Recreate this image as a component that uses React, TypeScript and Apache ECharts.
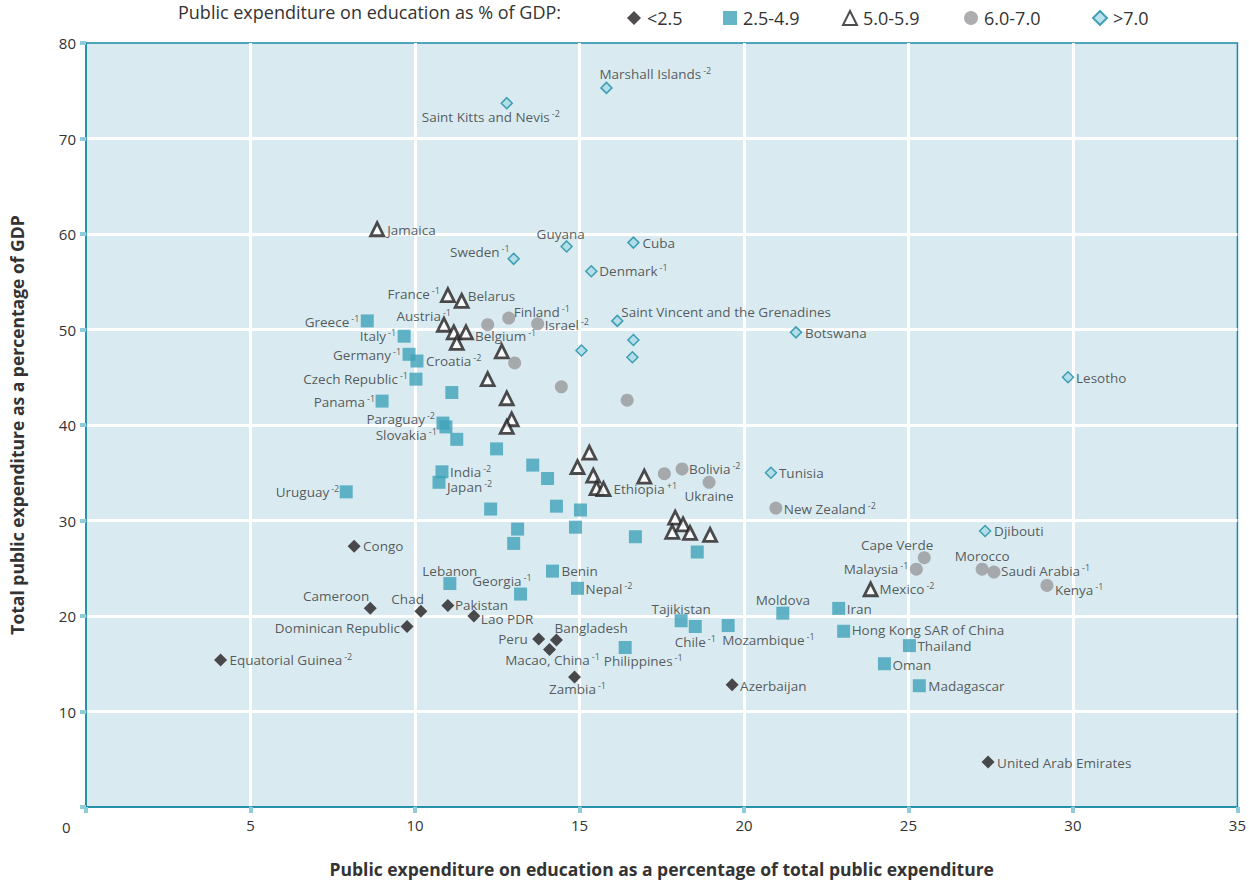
import React, { useEffect, useRef } from "react";
import * as echarts from "echarts";

// [name, note (superscript), x, y]
type Row = [string, string, number, number];

const legendTitle = "Public expenditure on education as % of GDP:";
const groupNames = ["<2.5", "2.5-4.9", "5.0-5.9", "6.0-7.0", ">7.0"];
const xAxisTitle = "Public expenditure on education as a percentage of total public expenditure";
const yAxisTitle = "Total public expenditure as a percentage of GDP";

const groupBelow25: Row[] = [
  ["Congo", "", 8.15, 27.3],
  ["Cameroon", "", 8.64, 20.8],
  ["Chad", "", 10.18, 20.5],
  ["Pakistan", "", 11.0, 21.1],
  ["Dominican Republic", "", 9.76, 18.9],
  ["Lao PDR", "", 11.79, 20.0],
  ["Peru", "", 13.76, 17.6],
  ["Bangladesh", "", 14.3, 17.5],
  ["Macao, China", "-1", 14.09, 16.5],
  ["Zambia", "-1", 14.85, 13.6],
  ["Azerbaijan", "", 19.64, 12.8],
  ["Equatorial Guinea", "-2", 4.09, 15.4],
  ["United Arab Emirates", "", 27.42, 4.7],
];

const group25to49: Row[] = [
  ["Greece", "-1", 8.55, 50.9],
  ["Italy", "-1", 9.67, 49.3],
  ["Germany", "-1", 9.82, 47.4],
  ["Croatia", "-2", 10.06, 46.7],
  ["Czech Republic", "-1", 10.03, 44.8],
  ["Panama", "-1", 9.0, 42.5],
  ["Paraguay", "-2", 10.85, 40.2],
  ["Slovakia", "-1", 10.94, 39.8],
  ["", "", 11.27, 38.5],
  ["", "", 11.12, 43.4],
  ["", "", 12.48, 37.5],
  ["India", "-2", 10.82, 35.1],
  ["Japan", "-2", 10.73, 34.0],
  ["", "", 13.58, 35.8],
  ["", "", 14.03, 34.4],
  ["", "", 12.3, 31.2],
  ["", "", 14.3, 31.5],
  ["", "", 15.03, 31.1],
  ["", "", 13.12, 29.1],
  ["", "", 13.0, 27.6],
  ["", "", 14.88, 29.3],
  ["", "", 16.7, 28.3],
  ["", "", 18.58, 26.7],
  ["Uruguay", "-2", 7.91, 33.0],
  ["Lebanon", "", 11.06, 23.4],
  ["Georgia", "-1", 13.21, 22.3],
  ["Benin", "", 14.18, 24.7],
  ["Nepal", "-2", 14.94, 22.9],
  ["Tajikistan", "", 18.09, 19.5],
  ["Chile", "-1", 18.52, 18.9],
  ["Mozambique", "-1", 19.52, 19.0],
  ["Philippines", "-1", 16.39, 16.7],
  ["Moldova", "", 21.18, 20.3],
  ["Iran", "", 22.88, 20.8],
  ["Hong Kong SAR of China", "", 23.03, 18.4],
  ["Thailand", "", 25.03, 16.9],
  ["Oman", "", 24.27, 15.0],
  ["Madagascar", "", 25.33, 12.7],
];

const group50to59: Row[] = [
  ["Jamaica", "", 8.85, 60.5],
  ["France", "-1", 11.0, 53.6],
  ["Belarus", "", 11.42, 53.0],
  ["Austria", "-1", 10.88, 50.5],
  ["", "", 11.18, 49.7],
  ["Belgium", "-1", 11.55, 49.7],
  ["", "", 11.27, 48.6],
  ["", "", 12.64, 47.7],
  ["", "", 12.21, 44.8],
  ["", "", 12.79, 42.8],
  ["", "", 12.94, 40.6],
  ["", "", 12.79, 39.8],
  ["", "", 15.3, 37.1],
  ["", "", 14.94, 35.6],
  ["", "", 15.42, 34.7],
  ["", "", 15.52, 33.4],
  ["Ethiopia", "+1", 15.73, 33.3],
  ["", "", 16.97, 34.6],
  ["", "", 17.91, 30.3],
  ["", "", 18.15, 29.6],
  ["", "", 17.82, 28.8],
  ["", "", 18.36, 28.7],
  ["", "", 18.97, 28.5],
  ["Mexico", "-2", 23.85, 22.8],
];

const group60to70: Row[] = [
  ["", "", 12.21, 50.5],
  ["Finland", "-1", 12.85, 51.2],
  ["Israel", "-2", 13.73, 50.6],
  ["", "", 13.03, 46.5],
  ["", "", 14.45, 44.0],
  ["", "", 16.45, 42.6],
  ["", "", 17.58, 34.9],
  ["Bolivia", "-2", 18.12, 35.4],
  ["Ukraine", "", 18.94, 34.0],
  ["New Zealand", "-2", 20.97, 31.3],
  ["Cape Verde", "", 25.48, 26.1],
  ["Malaysia", "-1", 25.24, 24.9],
  ["Morocco", "", 27.24, 24.9],
  ["Saudi Arabia", "-1", 27.6, 24.6],
  ["Kenya", "-1", 29.21, 23.2],
];

const groupAbove70: Row[] = [
  ["Marshall Islands", "-2", 15.82, 75.3],
  ["Saint Kitts and Nevis", "-2", 12.79, 73.7],
  ["Guyana", "", 14.61, 58.7],
  ["Cuba", "", 16.64, 59.1],
  ["Sweden", "-1", 13.0, 57.4],
  ["Denmark", "-1", 15.36, 56.1],
  ["Saint Vincent and the Grenadines", "", 16.15, 50.9],
  ["", "", 16.64, 48.9],
  ["", "", 15.06, 47.8],
  ["", "", 16.61, 47.1],
  ["Botswana", "", 21.58, 49.7],
  ["Tunisia", "", 20.82, 35.0],
  ["Lesotho", "", 29.85, 45.0],
  ["Djibouti", "", 27.33, 28.9],
];

// label placement (layout only): [align, dx, dy]
const labelPlacement: Record<string, [string, number, number]> = {
  Congo: ["left", 9, 0],
  Cameroon: ["right", -1, -12],
  Chad: ["right", 3, -12],
  Pakistan: ["left", 7, 0],
  "Dominican Republic": ["right", -7, 1],
  "Lao PDR": ["left", 7, 3],
  Peru: ["right", -11, 0],
  Bangladesh: ["left", -2, -12],
  "Macao, China": ["center", 3, 11],
  Zambia: ["center", 3, 12],
  Azerbaijan: ["left", 8, 1],
  "Equatorial Guinea": ["left", 9, 0],
  "United Arab Emirates": ["left", 9, 1],
  Greece: ["right", -8, 1],
  Italy: ["right", -8, 0],
  Germany: ["right", -8, 1],
  Croatia: ["left", 9, 0],
  "Czech Republic": ["right", -8, 0],
  Panama: ["right", -7, 1],
  Paraguay: ["right", -8, -4],
  Slovakia: ["right", -9, 8],
  India: ["left", 8, 0],
  Japan: ["left", 8, 5],
  Uruguay: ["right", -7, 0],
  Lebanon: ["center", 0, -13],
  Georgia: ["right", 11, -13],
  Benin: ["left", 9, 0],
  Nepal: ["left", 8, 1],
  Tajikistan: ["center", 0, -12],
  Chile: ["center", 0, 15],
  Mozambique: ["left", -6, 14],
  Philippines: ["center", 18, 13],
  Moldova: ["center", 0, -13],
  Iran: ["left", 8, 1],
  "Hong Kong SAR of China": ["left", 8, -1],
  Thailand: ["left", 8, 0],
  Oman: ["left", 8, 1],
  Madagascar: ["left", 9, 0],
  Jamaica: ["left", 10, 1],
  France: ["right", -8, -1],
  Belarus: ["left", 6, -5],
  Austria: ["right", 7, -9],
  Belgium: ["left", 9, 4],
  Ethiopia: ["left", 10, 0],
  Mexico: ["left", 9, 0],
  Finland: ["left", 5, -6],
  Israel: ["left", 7, 1],
  Bolivia: ["left", 7, 0],
  Ukraine: ["center", 0, 14],
  "New Zealand": ["left", 8, 1],
  "Cape Verde": ["right", 9, -13],
  Malaysia: ["right", -8, 0],
  Morocco: ["center", 0, -13],
  "Saudi Arabia": ["left", 7, -1],
  Kenya: ["left", 8, 5],
  "Marshall Islands": ["left", -7, -14],
  "Saint Kitts and Nevis": ["center", -16, 14],
  Guyana: ["center", -6, -12],
  Cuba: ["left", 9, 0],
  Sweden: ["right", -4, -7],
  Denmark: ["left", 8, 0],
  "Saint Vincent and the Grenadines": ["left", 4, -9],
  Botswana: ["left", 9, 1],
  Tunisia: ["left", 8, 0],
  Lesotho: ["left", 8, 1],
  Djibouti: ["left", 9, 0],
};

// legend item left positions (layout only)
const legendLefts = [622, 718, 837, 959, 1087];

const FONT = "'Open Sans', 'Noto Sans', sans-serif";
const TEXT = "#333333";

function toData(rows: Row[]) {
  return rows.map(([name, note, x, y]) => {
    if (!name) return { name: "", value: [x, y], label: { show: false } };
    const p = labelPlacement[name] || ["left", 8, 0];
    return {
      name,
      value: [x, y],
      label: {
        show: true,
        formatter: note ? `{a|${name}}{b|${note}}` : `{a|${name}}`,
        align: p[0],
        offset: [p[1], p[2]],
      },
    };
  });
}

const baseLabel = {
  position: ["50%", "50%"],
  verticalAlign: "middle",
  rich: {
    a: { fontSize: 13.5, color: TEXT, fontFamily: FONT, lineHeight: 16 },
    b: { fontSize: 9, color: TEXT, fontFamily: FONT, lineHeight: 10, verticalAlign: "top", padding: [0, 0, 0, 2] },
  },
};

export default function App() {
  const ref = useRef<HTMLDivElement>(null);
  useEffect(() => {
    if (!ref.current) return;
    const chart = echarts.init(ref.current, undefined, { renderer: "svg" });
    const option: any = {
      animation: false,
      backgroundColor: "#ffffff",
      graphic: [
        {
          type: "text",
          left: 178,
          top: 3,
          style: { text: legendTitle, fontSize: 18, fontFamily: FONT, fill: TEXT },
        },
        {
          type: "text",
          left: 62,
          top: 819,
          style: { text: "0", fontSize: 15, fontFamily: FONT, fill: TEXT },
        },
      ],
      legend: groupNames.map((g, i) => ({
        top: 4,
        left: legendLefts[i],
        itemWidth: 14,
        itemHeight: 14,
        itemGap: 6,
        selectedMode: false,
        textStyle: { fontSize: 18, color: TEXT, fontFamily: FONT, padding: [0, 0, 0, 1] },
        data: [g],
      })),
      grid: {
        left: 86,
        right: 11,
        top: 43,
        bottom: 75,
        show: true,
        backgroundColor: "#d9ebf1",
        borderColor: "#1b8ba6",
        borderWidth: 1.5,
      },
      xAxis: {
        type: "value",
        min: 0,
        max: 35,
        interval: 5,
        name: xAxisTitle,
        nameLocation: "middle",
        nameGap: 53,
        nameTextStyle: { fontSize: 17.5, fontWeight: "bold", color: TEXT, fontFamily: FONT },
        axisLine: { show: true, lineStyle: { color: "#1b8ba6", width: 1.5 } },
        axisTick: { show: true, length: 6, lineStyle: { color: "#8fcbd9", width: 4 } },
        axisLabel: {
          fontSize: 15,
          color: TEXT,
          fontFamily: FONT,
          margin: 10,
          formatter: (v: number) => (v === 0 ? "" : String(v)),
        },
        splitLine: { show: true, showMinLine: false, showMaxLine: false, lineStyle: { color: "#ffffff", width: 3 } },
      },
      yAxis: {
        type: "value",
        min: 0,
        max: 80,
        interval: 10,
        name: yAxisTitle,
        nameLocation: "middle",
        nameGap: 60,
        nameTextStyle: { fontSize: 17.5, fontWeight: "bold", color: TEXT, fontFamily: FONT },
        axisLine: { show: true, lineStyle: { color: "#1b8ba6", width: 1.5 } },
        axisTick: { show: true, length: 6, lineStyle: { color: "#8fcbd9", width: 4 } },
        axisLabel: {
          fontSize: 15,
          color: TEXT,
          fontFamily: FONT,
          margin: 10,
          formatter: (v: number) => (v === 0 ? "" : String(v)),
        },
        splitLine: { show: true, showMinLine: false, showMaxLine: false, lineStyle: { color: "#ffffff", width: 3 } },
      },
      series: [
        {
          name: groupNames[0],
          type: "scatter",
          symbol: "diamond",
          symbolSize: 13,
          itemStyle: { color: "#231f20" },
          label: baseLabel,
          data: toData(groupBelow25),
        },
        {
          name: groupNames[1],
          type: "scatter",
          symbol: "rect",
          symbolSize: 13,
          itemStyle: { color: "#3fa3b9" },
          label: baseLabel,
          data: toData(group25to49),
        },
        {
          name: groupNames[2],
          type: "scatter",
          symbol: "triangle",
          symbolSize: 13,
          itemStyle: { color: "#ffffff", borderColor: "#231f20", borderWidth: 2.8 },
          label: baseLabel,
          data: toData(group50to59),
        },
        {
          name: groupNames[3],
          type: "scatter",
          symbol: "circle",
          symbolSize: 13,
          itemStyle: { color: "#98999b" },
          label: baseLabel,
          data: toData(group60to70),
        },
        {
          name: groupNames[4],
          type: "scatter",
          symbol: "diamond",
          symbolSize: 11,
          itemStyle: { color: "#a9d9e5", borderColor: "#1a8ca6", borderWidth: 1.5 },
          label: baseLabel,
          data: toData(groupAbove70),
        },
      ],
    };
    chart.setOption(option);
    return () => chart.dispose();
  }, []);
  return (
    <div
      ref={ref}
      style={{ position: "fixed", left: 0, top: 0, width: 1249, height: 883 }}
    />
  );
}
